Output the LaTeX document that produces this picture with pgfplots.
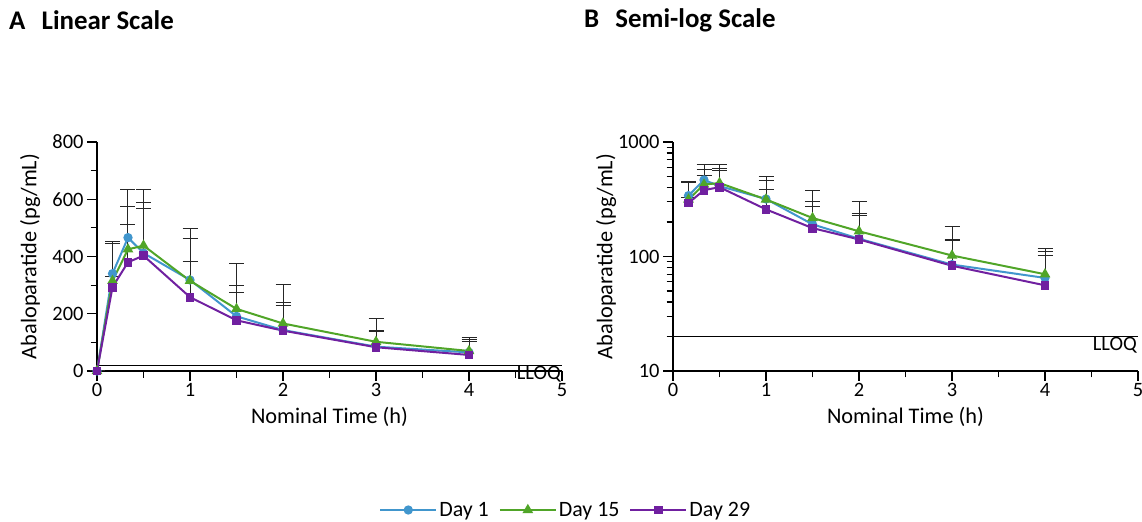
\documentclass[border=0pt]{standalone}
\usepackage{pgfplots}
\pgfplotsset{compat=1.18}
\usepackage{pgfplotstable}
\usepackage{fontspec}
\setmainfont{Carlito}
\definecolor{cday1}{RGB}{65,150,205}
\definecolor{cday15}{RGB}{80,165,40}
\definecolor{cday29}{RGB}{112,32,160}

\pgfplotstableread{
t      d1  e1   d15 e15  d29 e29
0      0   0    0   0    0   0
0.1667 340 106  315 139  293 36
0.3333 466 167  425 148  380 133
0.5    412 176  438 195  403 165
1      318 144  315 182  258 126
1.5    191 109  217 157  177 96
2      143 95   166 137  141 89
3      85  55   102 81   83  55
4      65  45   70  48   56  46
}\pk

\pgfplotsset{
  pkaxis/.style={
    scale only axis, width=465bp, height=229bp,
    axis lines*=left,
    axis line style={line width=2.4bp, black},
    xmin=0, xmax=5, xtick={0,1,2,3,4,5}, minor x tick num=1,
    tick align=outside, major tick length=10bp, minor tick length=6.5bp,
    every tick/.style={black, line width=1.2bp},
    tick label style={font=\fontsize{20.5}{20.5}\selectfont},
    xticklabel style={inner sep=2bp},
    /pgf/number format/assume math mode=true,
    label style={font=\fontsize{22.4}{22.4}\selectfont},
    xlabel={Nominal Time (h)},
    ylabel={Abaloparatide (pg/mL)},
    xlabel style={at={(axis description cs:0.5,-0.2)}, anchor=center},
    ylabel style={at={(axis description cs:-0.144,0.5)}, anchor=center},
    clip=false,
  },
  ebar/.style={forget plot, draw=none, mark=none,
    error bars/.cd, y dir=plus, y explicit,
    error bar style={draw=black!85, line width=1bp},
    error mark options={draw=black!85, rotate=90, mark size=7.5bp, line width=1bp}},
  s1/.style={cday1, line width=2bp, mark=*, mark size=3.6bp, mark options={solid, fill=cday1}},
  s15/.style={cday15, line width=2bp, mark=triangle*, mark size=4.2bp, mark options={solid, fill=cday15}},
  s29/.style={cday29, line width=2bp, mark=square*, mark size=3.4bp, mark options={solid, fill=cday29}},
  nozero/.style={skip coords between index={0}{1}},
}

\begin{document}
\begin{tikzpicture}
\path[use as bounding box] (0,0) rectangle (1142bp,522bp);

\node[anchor=west, font=\bfseries\fontsize{27}{27}\selectfont, inner sep=0pt] at (9bp,502bp) {A\hspace{0.6em}Linear Scale};
\node[anchor=west, font=\bfseries\fontsize{27}{27}\selectfont, inner sep=0pt] at (584bp,502bp) {B\hspace{0.6em}Semi-log Scale};

\begin{axis}[pkaxis, at={(97bp,151bp)}, anchor=south west,
  ymin=0, ymax=800, ytick={0,200,400,600,800}, minor y tick num=1,
  legend style={at={(axis description cs:1.008,-0.607)}, anchor=center, draw=none,
    font=\fontsize{22}{22}\selectfont, legend columns=3,
    /tikz/every even column/.append style={column sep=8bp}},
  legend image code/.code={\draw[mark repeat=2, mark phase=2] plot coordinates {(0bp,0bp)(28bp,0bp)(56bp,0bp)};},
]
\addplot[black, line width=1bp, forget plot] coordinates {(0,20) (5,20)};
\node[anchor=north east, font=\fontsize{20.5}{20.5}\selectfont, inner sep=1bp] at (axis cs:5,20) {LLOQ};
\addplot[ebar] table[x=t, y=d1, y error=e1] {\pk};
\addplot[ebar] table[x=t, y=d15, y error=e15] {\pk};
\addplot[ebar] table[x=t, y=d29, y error=e29] {\pk};
\addplot[s1] table[x=t, y=d1] {\pk};
\addplot[s15] table[x=t, y=d15] {\pk};
\addplot[s29] table[x=t, y=d29] {\pk};
\legend{Day 1, Day 15, Day 29}
\end{axis}

\begin{axis}[pkaxis, at={(673bp,151bp)}, anchor=south west,
  ymode=log, ymin=10, ymax=1000, ytick={10,100,1000}, yticklabels={10,100,1000},
]
\addplot[black, line width=1bp, forget plot] coordinates {(0,20) (5,20)};
\node[anchor=north east, font=\fontsize{20.5}{20.5}\selectfont, inner sep=1bp] at (axis cs:5,20) {LLOQ};
\addplot[nozero, ebar] table[x=t, y=d1, y error=e1] {\pk};
\addplot[nozero, ebar] table[x=t, y=d15, y error=e15] {\pk};
\addplot[nozero, ebar] table[x=t, y=d29, y error=e29] {\pk};
\addplot[nozero, s1] table[x=t, y=d1] {\pk};
\addplot[nozero, s15] table[x=t, y=d15] {\pk};
\addplot[nozero, s29] table[x=t, y=d29] {\pk};
\end{axis}
\end{tikzpicture}
\end{document}
